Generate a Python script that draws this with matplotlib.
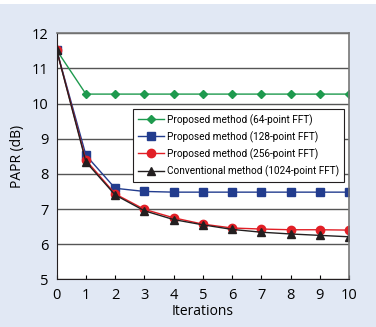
import matplotlib
matplotlib.use("Agg")
import matplotlib.pyplot as plt
from matplotlib.patches import Rectangle

# data
iterations = list(range(11))
fft64 = [11.52, 10.27, 10.27, 10.27, 10.27, 10.27, 10.27, 10.27, 10.27, 10.27, 10.27]
fft128 = [11.52, 8.53, 7.59, 7.50, 7.48, 7.48, 7.48, 7.48, 7.48, 7.48, 7.48]
fft256 = [11.52, 8.39, 7.43, 6.99, 6.75, 6.57, 6.46, 6.43, 6.41, 6.41, 6.40]
conv1024 = [11.52, 8.34, 7.40, 6.95, 6.70, 6.55, 6.42, 6.34, 6.29, 6.25, 6.21]
labels = [
    "Proposed method (64-point FFT)",
    "Proposed method (128-point FFT)",
    "Proposed method (256-point FFT)",
    "Conventional method (1024-point FFT)",
]

plt.rcParams["font.family"] = ["Open Sans", "DejaVu Sans"]

bg = "#e1e8f4"
fig = plt.figure(figsize=(3.76, 3.27), dpi=100, facecolor=bg)
# thin white strip along the top edge, as in the scan
fig.patches.append(Rectangle((0, 1 - 4 / 327), 1, 4 / 327, transform=fig.transFigure,
                             facecolor="white", edgecolor="none"))
ax = fig.add_axes([56.7 / 376, 1 - 279.3 / 327, (349 - 56.7) / 376, (279.3 - 33.3) / 327])
ax.set_facecolor("white")

ax.plot(iterations, fft64, color="#1e9a4e", marker="D", markersize=4.5, lw=1, label=labels[0])
ax.plot(iterations, fft128, color="#223c8e", marker="s", markersize=6, lw=1, label=labels[1])
ax.plot(iterations, fft256, color="#e11f26", marker="o", markersize=6, lw=1, label=labels[2])
ax.plot(iterations, conv1024, color="#231f20", marker="^", markersize=6, lw=1, label=labels[3])

ax.set_xlim(0, 10)
ax.set_ylim(5, 12)
ax.set_xticks(range(11))
ax.set_yticks(range(5, 13))
ax.grid(axis="y", color="#555555", lw=1)
ax.set_axisbelow(True)
ax.tick_params(axis="x", direction="in", length=3, labelsize=10.5, pad=6)
ax.tick_params(axis="y", length=0, labelsize=10.5, pad=6)
for side in ["left", "bottom"]:
    ax.spines[side].set_color("#231f20")
for side in ["top", "right"]:
    ax.spines[side].set_color("#777777")
    ax.spines[side].set_linewidth(1.2)

ax.set_xlabel("Iterations", fontsize=10, labelpad=1)
ax.set_ylabel("PAPR (dB)", fontsize=10, labelpad=5)

leg = ax.legend(loc="upper left", bbox_to_anchor=((132.7 - 56.7) / 292.3, (279.3 - 109) / 246),
                prop={"family": "Roboto", "size": 7.2}, frameon=True, fancybox=False,
                handlelength=2.6, handletextpad=0.35, borderpad=0.5, labelspacing=0.55,
                borderaxespad=0, framealpha=1)
leg.get_frame().set_edgecolor("#231f20")
leg.get_frame().set_linewidth(0.8)

fig.savefig("out.png", dpi=100, facecolor=bg)
